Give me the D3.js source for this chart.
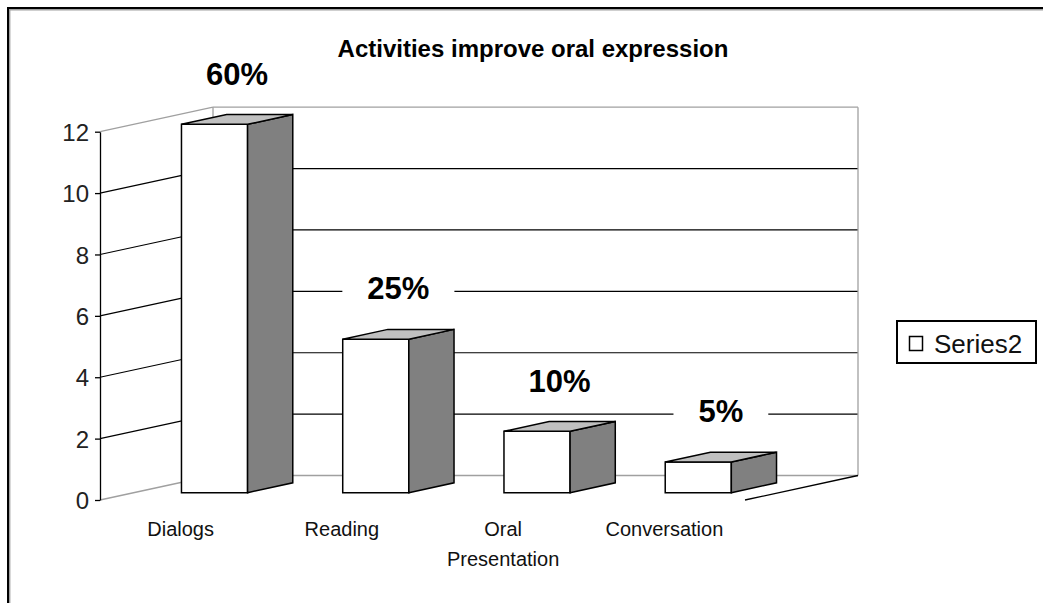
<!DOCTYPE html>
<html><head><meta charset="utf-8">
<script src="https://cdn.jsdelivr.net/npm/d3@7"></script>
<style>html,body{margin:0;padding:0;background:#fff;overflow:hidden}</style>
</head><body>
<svg id="chart" width="1043" height="603"></svg>
<script>
// ---- data ----
const categories = ["Dialogs", "Reading", "Oral Presentation", "Conversation"];
const values = [12, 5, 2, 1];
const percentLabels = ["60%", "25%", "10%", "5%"];
const yTicks = [0, 2, 4, 6, 8, 10, 12];
const chartTitle = "Activities improve oral expression";
const seriesName = "Series2";

// ---- layout ----
const W = 1043, H = 603;
const font = "'Liberation Sans', Arial, Helvetica, sans-serif";
const svg = d3.select("#chart");
svg.append("rect").attr("width", W).attr("height", H).attr("fill", "#fff");

const x = d3.scaleBand().domain(categories).range([100, 745]).padding(0);
const y = d3.scaleLinear().domain([0, 12]).range([500, 131.7]);
const DX = 113, DY = -24.5;           // full depth offset of the 3D box
const P = (xf, v, d) => [xf + d * DX, y(v) + d * DY];
const line = d3.line();

// outer frame
svg.append("path").attr("d", `M8,${H + 5}V8H${W + 5}`).attr("fill", "none")
  .attr("stroke", "#000").attr("stroke-width", 2);
svg.append("path").attr("d", `M9.7,${H + 5}V9.7H${W + 5}`).attr("fill", "none")
  .attr("stroke", "#a0a0a0").attr("stroke-width", 1.4);

const [x0, x1] = x.range();
const walls = svg.append("g");
const edgeTick = v => v === yTicks[0] || v === yTicks[yTicks.length - 1];

// back wall gridlines
walls.selectAll("path.back").data(yTicks).join("path")
  .attr("class", "back")
  .attr("d", v => line([P(x0, v, 1), P(x1, v, 1)]))
  .attr("stroke", v => edgeTick(v) ? "#a0a0a0" : "#000")
  .attr("stroke-width", v => edgeTick(v) ? 1.3 : 1.2).attr("fill", "none");
// side wall gridlines
walls.selectAll("path.side").data(yTicks).join("path")
  .attr("class", "side")
  .attr("d", v => line([P(x0, v, 0), P(x0, v, 1)]))
  .attr("stroke", v => edgeTick(v) ? "#a0a0a0" : "#000")
  .attr("stroke-width", v => edgeTick(v) ? 1.3 : 1.2).attr("fill", "none");
// back wall vertical edges
[x0, x1].forEach(xx => {
  walls.append("path").attr("d", line([P(xx, 0, 1), P(xx, 12, 1)]))
    .attr("stroke", "#a0a0a0").attr("stroke-width", 1.3).attr("fill", "none");
});
// floor right edge
walls.append("path").attr("d", line([P(x1, 0, 0), P(x1, 0, 1)]))
  .attr("stroke", "#000").attr("stroke-width", 1.3).attr("fill", "none");

// value axis
const axis = svg.append("g").attr("transform", `translate(${x0},0)`)
  .call(d3.axisLeft(y).tickValues(yTicks).tickSize(5).tickSizeOuter(0).tickPadding(6));
axis.select(".domain").attr("stroke", "#000").attr("stroke-width", 1.3);
axis.selectAll(".tick line").attr("stroke", "#000").attr("stroke-width", 1.3);
axis.selectAll(".tick text").attr("font-family", font).attr("font-size", 24)
  .attr("fill", "#222").attr("dy", "0.36em");

// bars
const D0 = 0.3, D1 = 0.7, BW = 0.41;
const data = categories.map((c, i) => ({ c, v: values[i], lab: percentLabels[i] }));
const bars = svg.append("g").selectAll("g").data(data).join("g");
const bx0 = d => x(d.c) + x.bandwidth() * (1 - BW) / 2;
const bx1 = d => x(d.c) + x.bandwidth() * (1 + BW) / 2;
const poly = pts => line(pts) + "Z";
bars.append("path") // front
  .attr("d", d => poly([P(bx0(d), 0, D0), P(bx1(d), 0, D0), P(bx1(d), d.v, D0), P(bx0(d), d.v, D0)]))
  .attr("fill", "#fff");
bars.append("path") // side
  .attr("d", d => poly([P(bx1(d), 0, D0), P(bx1(d), 0, D1), P(bx1(d), d.v, D1), P(bx1(d), d.v, D0)]))
  .attr("fill", "#808080");
bars.append("path") // top
  .attr("d", d => poly([P(bx0(d), d.v, D0), P(bx1(d), d.v, D0), P(bx1(d), d.v, D1), P(bx0(d), d.v, D1)]))
  .attr("fill", "#c0c0c0");
bars.selectAll("path").attr("stroke", "#000").attr("stroke-width", 1.5).attr("stroke-linejoin", "miter");

// data labels
const labG = svg.append("g").selectAll("g").data(data).join("g")
  .attr("transform", d => {
    const [px, py] = P(x(d.c) + x.bandwidth() / 2, d.v, 0.5);
    return `translate(${px},${py - 46})`;
  });
labG.append("rect").attr("fill", "#fff");
labG.append("text").text(d => d.lab)
  .attr("font-family", font).attr("font-weight", "bold").attr("font-size", 31)
  .attr("text-anchor", "middle").attr("dy", "0.36em").attr("fill", "#000");
labG.each(function () {
  const g = d3.select(this);
  const bb = g.select("text").node().getBBox();
  g.select("rect").attr("x", bb.x - 25).attr("y", bb.y - 3)
    .attr("width", bb.width + 50).attr("height", bb.height + 6);
});

// category labels (wrapped to band width)
const catG = svg.append("g").selectAll("text").data(categories).join("text")
  .attr("font-family", font).attr("font-size", 20).attr("fill", "#111")
  .attr("text-anchor", "middle")
  .attr("x", c => x(c) + x.bandwidth() / 2).attr("y", 536);
catG.each(function (c) {
  const t = d3.select(this);
  const words = c.split(" ");
  let lines = [words[0]];
  for (let i = 1; i < words.length; i++) {
    t.text(lines[lines.length - 1] + " " + words[i]);
    if (t.node().getComputedTextLength() > x.bandwidth() * 0.8) lines.push(words[i]);
    else lines[lines.length - 1] += " " + words[i];
  }
  t.text(null);
  const cx = t.attr("x");
  lines.forEach((l, i) => t.append("tspan").attr("x", cx).attr("dy", i ? 30 : 0).text(l));
});

// title
svg.append("text").text(chartTitle)
  .attr("x", 533).attr("y", 56.5).attr("text-anchor", "middle")
  .attr("font-family", font).attr("font-weight", "bold").attr("font-size", 24).attr("fill", "#000");

// legend
const leg = svg.append("g");
leg.append("rect").attr("x", 897).attr("y", 321).attr("width", 139).attr("height", 42)
  .attr("fill", "#fff").attr("stroke", "#000").attr("stroke-width", 2);
leg.append("rect").attr("x", 909.5).attr("y", 336.5).attr("width", 13).attr("height", 14)
  .attr("fill", "#fff").attr("stroke", "#000").attr("stroke-width", 1.5);
leg.append("text").text(seriesName).attr("x", 934).attr("y", 352.5)
  .attr("font-family", font).attr("font-size", 26).attr("fill", "#111");
</script>
</body></html>
